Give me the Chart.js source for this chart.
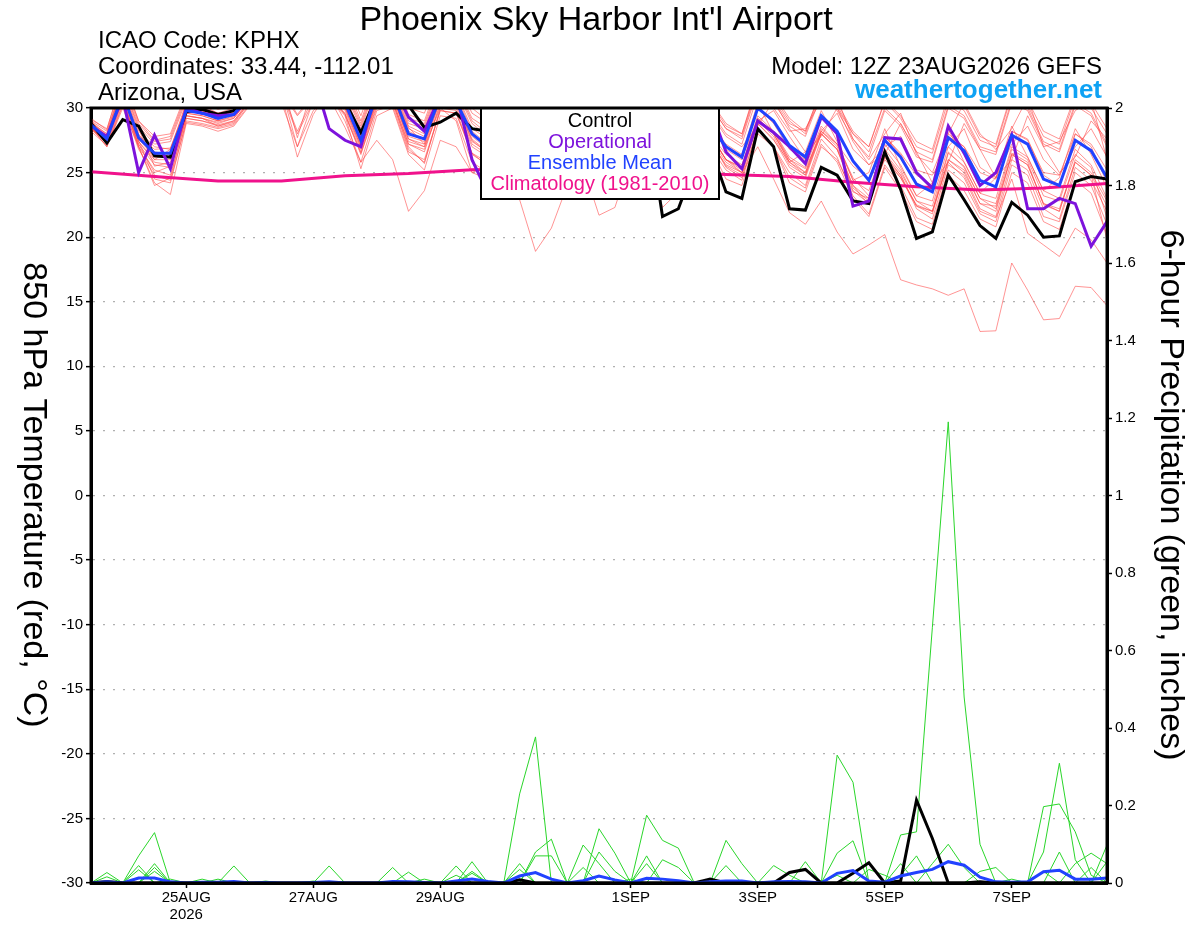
<!DOCTYPE html>
<html>
<head>
<meta charset="utf-8">
<title>Phoenix Sky Harbor Int'l Airport - GEFS 850 hPa Temperature</title>
<script src="https://cdn.jsdelivr.net/npm/chart.js@4.4.1/dist/chart.umd.min.js"></script>
<style>
  html, body { margin: 0; padding: 0; background: #fff; }
  #wrap { width: 1200px; height: 927px; }
</style>
</head>
<body>
<div id="wrap"><canvas id="chart" width="1200" height="927"></canvas></div>
<script>
// forecast hours from 12Z 23AUG2026, every 6 h out to 384 h
const hours = [];
for (let h = 0; h <= 384; h += 6) hours.push(h);
const climoHours = [];
for (let h = 0; h <= 384; h += 24) climoHours.push(h);

const tickHours = [36, 84, 132, 204, 252, 300, 348];
const tickLabels = [["25AUG", "2026"], "27AUG", "29AUG", "1SEP", "3SEP", "5SEP", "7SEP"];

// 850 hPa temperature (C)
const controlT = [28.8, 27.3,29.1,28.6,26.3, 26.2,29.7,29.9,29.5, 29.8,31.2,31.8,32.2, 31.0,31.5,31.6,30.5, 28.1,30.9,31.5,30.2, 28.5,28.9,29.6,28.4, 28.2,30.5,30.2,28.0, 27.5,30.5,30.4,28.5, 27.8,29.5,29.8,21.6, 22.2,25.5,27.0,23.5, 23.0,28.4,27.0,22.2, 22.1,25.4,24.8,22.8, 22.6,26.6,23.7,19.9, 20.4,24.8,22.9,20.9, 19.9,22.7,21.7,20.0, 20.1,24.3,24.7,24.5];
const operationalT = [28.6, 27.8,30.8,25.0,27.9, 25.3,30.0,29.6,29.4, 29.5,30.8,31.5,32.2, 31.4,32.5,28.4,27.5, 27.0,31.5,31.8,29.3, 28.2,31.0,31.2,26.0, 23.4,29.5,30.0,27.8, 26.5,29.8,30.2,27.2, 26.8,29.0,29.2,26.8, 26.0,29.0,30.0,26.6, 25.3,29.0,28.1,27.0, 25.7,29.3,28.0,22.4, 22.8,27.7,27.6,25.0, 23.8,28.6,26.5,24.0, 25.0,27.9,22.2,22.2, 23.0,22.6,19.3,21.2];
const meanT = [28.7, 27.6,31.1,27.7,26.5, 26.5,29.8,29.6,29.2, 29.5,31.0,31.6,32.0, 31.2,31.6,31.8,30.4, 27.5,31.0,31.2,28.0, 27.6,30.9,30.5,28.0, 27.0,30.0,30.5,28.2, 27.6,30.0,30.3,28.0, 27.5,29.6,29.8,27.4, 26.9,29.4,28.6,27.0, 26.2,30.0,29.0,27.1, 26.2,29.4,28.2,25.9, 24.4,27.5,26.2,24.1, 23.5,27.7,26.7,24.4, 23.9,27.9,27.2,24.5, 24.0,27.5,26.7,24.6];
const climoT = [25.07, 24.7, 24.35, 24.35, 24.75, 24.92, 25.22, 25.3, 25.25, 25.05, 24.85, 24.7, 24.25, 23.9, 23.65, 23.8, 24.15];

const r01 = [28.9, 27.4,31.5,28.0,26.0, 26.8,30.2,29.8,29.0, 29.9,31.4,32.0,32.5, 31.0,31.9,32.3,30.0, 27.9,31.4,31.6,28.5, 27.2,31.3,30.5,27.5, 26.5,30.4,30.9,28.6, 27.0,30.5,30.0,27.5, 27.0,29.2,29.5,26.8, 26.2,28.8,28.0,26.0, 25.0,27.0,24.5,21.9, 21.0,22.8,20.4,18.7, 19.4,20.2,16.7,16.3, 16.0,15.5,16.0,12.7, 12.75,18.0,15.9,13.6, 13.7,16.2,16.1,14.7];
const r02 = [28.4, 27.9,30.6,27.2,25.0, 25.5,29.4,29.2,28.6, 29.0,30.6,31.2,31.5, 29.5,31.0,31.2,29.8, 26.8,30.5,30.6,27.2, 26.6,30.4,30.2,27.2, 26.4,29.5,29.8,27.5, 27.1,29.5,29.7,27.2, 26.8,29.0,29.0,26.5, 26.0,28.8,28.0,26.0, 25.2,29.0,28.2,26.0, 25.3,28.0,26.8,24.0, 23.0,26.0,24.6,22.5, 22.0,25.8,24.6,22.0, 21.5,24.5,20.3,19.4, 18.5,20.7,19.8,18.0];
const r03 = [29.0, 27.8,31.8,28.4,25.5, 25.8,30.5,30.2,29.6, 30.0,31.8,32.2,32.6, 30.5,31.2,30.8,28.5, 25.8,27.5,26.0,22.0, 23.6,27.5,27.0,25.0, 24.5,25.0,22.9,18.9, 20.7,24.0,26.0,25.5, 24.5,27.5,28.0,25.8, 25.5,28.5,27.5,25.5, 24.8,28.8,27.5,25.8, 25.0,28.2,27.2,25.5, 24.5,27.8,26.5,24.8, 24.0,27.8,27.0,25.0, 24.5,28.2,27.5,25.0, 24.8,28.0,27.2,25.2];
const r04 = [28.5, 27.0,30.2,27.5,24.5, 24.2,29.0,28.8,28.5, 28.8,30.5,31.0,31.2, 28.0,30.5,31.0,29.5, 26.5,30.0,30.5,26.8, 25.8,29.8,29.6,26.5, 25.5,28.5,29.0,26.0, 25.0,27.0,25.5,21.7, 22.3,26.0,27.0,22.3, 23.5,27.5,27.0,24.5, 24.0,28.0,27.0,24.2, 23.5,27.0,26.0,23.5, 23.0,26.5,25.0,22.8, 22.0,26.5,25.5,23.0, 22.2,26.5,25.8,22.5, 22.0,26.0,25.0,22.8];
const r05 = [29.2, 28.3,32.5,29.0,27.5, 27.8,31.0,30.8,30.2, 30.6,32.4,33.0,33.4, 32.8,33.0,33.2,32.0, 29.0,32.5,32.8,29.5, 29.0,32.4,32.2,29.6, 28.8,31.6,32.0,30.0, 29.2,31.8,32.0,29.6, 29.0,31.2,31.4,29.0, 28.5,31.0,30.5,28.6, 28.0,31.8,30.8,29.0, 28.0,31.2,30.0,28.0, 27.0,30.5,29.2,27.0, 26.5,30.6,29.8,27.5, 27.0,31.0,30.2,27.8, 27.2,30.8,30.0,28.0];
const r06 = [28.6, 27.2,30.5,27.0,25.2, 24.8,29.2,29.0,28.6, 28.9,30.5,31.0,31.4, 27.0,30.6,31.0,29.5, 26.4,30.2,30.4,27.0, 25.7,30.0,29.8,26.5, 25.8,29.0,29.4,27.0, 26.5,29.0,29.2,26.8, 26.2,28.5,28.6,26.0, 25.6,28.4,27.6,25.8, 25.0,29.0,27.8,25.6, 24.8,28.2,27.0,24.0, 22.5,26.2,24.8,22.4, 21.8,26.0,25.2,22.6, 22.0,26.4,25.6,22.6, 22.0,25.8,24.8,22.4];
const r07 = [28.8, 28.0,31.6,28.2,27.0, 26.8,30.4,30.0,29.6, 29.8,31.5,32.2,32.6, 32.0,32.4,32.5,31.2, 28.4,31.8,32.0,28.8, 28.4,31.6,31.4,28.8, 27.8,30.8,31.2,29.0, 28.4,30.8,31.0,28.8, 28.2,30.4,30.6,28.2, 27.6,30.2,29.6,27.8, 27.0,28.6,30.6,28.4, 26.6,27.8,30.0,27.4, 25.6,26.4,28.8,26.6, 24.2,25.8,28.8,26.8, 24.6,26.0,29.4,27.0, 25.0,26.2,29.0,27.6];
const r08 = [28.3, 27.5,30.9,27.4,26.0, 26.0,29.6,29.4,29.0, 29.3,30.8,31.2,31.0, 26.2,29.5,31.4,30.0, 27.0,30.6,30.8,27.6, 27.0,30.6,30.4,27.6, 26.6,29.6,30.0,27.8, 27.2,29.6,29.8,27.6, 27.0,29.0,29.4,26.8, 26.4,29.0,28.0,26.4, 25.6,29.4,28.2,26.2, 25.4,28.6,27.2,24.6, 23.2,26.8,25.2,22.8, 22.4,26.6,25.4,23.0, 22.6,26.8,26.0,23.2, 22.8,26.4,25.4,21.5];
const r09 = [28.5, 27.0,30.0,27.0,24.2, 23.3,28.8,28.6,28.2, 28.6,30.2,30.6,30.4, 27.0,29.8,30.8,29.4, 25.3,29.4,30.0,26.4, 25.2,29.4,29.2,25.8, 25.0,28.6,29.0,26.4, 25.8,28.4,28.6,26.2, 25.8,28.2,28.4,25.6, 25.0,28.0,27.0,25.2, 24.4,28.4,27.0,25.0, 24.0,27.6,26.2,23.2, 21.8,25.6,24.0,21.5, 21.0,25.2,24.2,21.8, 21.2,25.6,24.8,21.6, 21.2,25.0,24.0,21.0];
const r10 = [28.7, 27.7,31.2,27.9,26.8, 26.9,30.0,29.7,29.3, 29.6,31.2,31.8,32.2, 27.7,31.8,32.0,30.6, 27.8,31.2,31.4,28.4, 27.8,31.0,31.0,28.2, 27.2,30.2,30.6,28.4, 27.8,30.2,30.4,28.2, 27.6,29.8,30.0,27.6, 27.0,29.6,28.8,27.2, 26.4,30.4,28.0,25.8, 26.6,29.8,27.4,24.4, 25.0,28.4,25.4,23.2, 24.2,28.4,25.8,23.4, 24.6,28.6,26.2,23.6, 24.6,28.4,26.4,23.8];
const r11 = [28.8, 27.8,31.4,27.8,26.6, 26.4,30.0,29.8,29.5, 29.8,31.4,32.0,32.4, 31.6,32.0,32.2,31.0, 28.0,31.5,31.8,28.6, 28.0,31.4,31.2,28.4, 27.6,30.6,31.0,28.8, 28.2,30.8,31.0,28.8, 28.4,30.6,30.8,28.6, 28.0,30.8,30.2,28.4, 27.8,31.6,30.6,28.8, 28.2,31.4,30.4,28.2, 27.0,30.6,29.4,27.4, 26.8,31.0,30.2,27.8, 27.2,31.2,30.6,28.2, 27.6,31.0,30.4,28.4];
const r12 = [28.2, 27.1,30.3,26.8,24.8, 24.4,28.9,28.7,28.4, 28.7,30.3,30.9,31.2, 29.4,30.8,31.0,29.6, 26.6,30.4,30.6,27.2, 26.8,30.2,30.0,27.0, 26.2,29.2,29.6,27.4, 26.8,29.2,29.4,27.2, 26.6,28.8,29.0,26.4, 25.8,28.6,27.8,26.0, 25.4,29.2,28.0,26.0, 25.0,28.4,27.2,24.4, 23.6,27.2,25.6,23.2, 22.8,27.0,25.8,23.4, 23.0,27.0,26.2,23.6, 23.0,26.8,25.6,23.0];
const r13 = [29.0, 28.2,31.8,28.6,27.2, 27.4,30.6,30.4,29.9, 30.2,31.8,32.4,32.8, 32.2,32.6,32.8,31.4, 28.6,32.0,32.2,29.0, 28.6,31.8,31.6,29.0, 28.0,31.0,31.4,29.2, 28.6,31.0,31.2,29.0, 28.4,30.6,30.8,28.4, 27.8,30.4,29.8,28.0, 27.2,31.0,30.0,28.2, 28.4,30.6,30.8,27.6, 26.0,28.0,29.6,26.4, 25.0,28.0,30.4,28.0, 26.8,28.4,30.8,27.0, 27.4,29.8,30.6,26.0];
const r14 = [28.6, 27.5,31.0,27.6,26.2, 26.2,29.6,29.4,29.0, 29.4,30.9,31.4,31.8, 30.8,31.4,31.6,30.2, 27.2,30.8,31.0,27.8, 27.4,30.8,30.6,27.8, 26.8,29.8,30.2,28.0, 27.4,29.8,30.0,27.6, 27.2,29.2,29.4,26.8, 26.2,28.6,27.6,25.4, 24.6,28.4,27.0,24.6, 23.8,27.2,25.8,23.0, 21.6,25.4,23.6,21.2, 20.6,24.8,23.6,21.4, 20.8,25.0,24.2,21.2, 20.6,24.4,23.4,20.2];
const r15 = [28.9, 28.0,32.0,28.8,27.4, 27.6,30.8,30.6,30.0, 30.4,32.0,32.6,33.0, 32.4,32.8,33.0,31.6, 28.8,32.2,32.4,29.2, 28.8,32.0,31.8,29.2, 28.4,31.2,31.6,29.4, 28.8,31.2,31.4,29.2, 28.6,30.8,31.0,28.8, 28.2,30.8,30.2,28.4, 27.6,31.4,30.4,28.6, 27.8,31.0,29.8,27.6, 26.2,29.8,28.6,26.2, 25.8,30.0,29.2,26.8, 26.4,30.4,29.8,27.2, 26.6,30.2,29.4,27.0];
const r16 = [28.4, 27.3,30.6,27.2,25.6, 25.4,29.2,29.0,28.7, 29.0,30.6,31.2,31.4, 28.2,30.8,31.2,29.0, 25.8,29.8,30.2,26.6, 26.0,29.8,29.6,26.4, 25.6,28.8,29.2,26.8, 26.2,28.8,29.0,26.4, 26.0,28.4,28.6,25.8, 25.4,28.2,27.4,25.6, 25.0,28.8,27.6,25.4, 24.6,28.0,26.8,23.8, 22.8,26.4,24.8,22.2, 21.4,25.6,24.8,22.2, 21.6,26.0,25.2,22.2, 21.4,25.4,24.4,22.0];
const r17 = [28.7, 27.6,31.2,27.6,26.4, 26.6,29.9,29.7,29.3, 29.7,31.2,31.8,32.2, 31.4,31.8,32.0,30.6, 27.6,31.2,31.4,28.2, 27.6,31.0,30.8,28.0, 27.0,30.2,30.6,28.4, 27.8,30.2,30.4,28.0, 27.4,29.8,30.0,27.6, 27.0,29.6,28.8,27.0, 26.2,29.0,29.8,27.8, 26.0,28.2,29.6,26.8, 25.6,27.0,27.8,25.2, 24.8,27.0,28.4,25.4, 24.6,27.2,28.6,26.0, 24.8,27.0,28.4,26.2];
const r18 = [28.5, 27.4,30.8,27.0,24.0, 24.6,29.4,29.2,28.8, 29.2,30.8,31.4,31.8, 31.0,31.4,31.6,30.0, 27.0,30.6,31.0,27.4, 27.0,30.0,29.0,25.0, 25.5,29.0,29.8,27.4, 26.8,29.6,29.8,27.4, 27.0,29.4,29.6,27.2, 26.6,29.4,28.6,26.8, 26.0,30.0,28.8,26.8, 26.0,29.4,28.2,25.8, 24.4,27.8,26.4,24.2, 23.6,28.0,27.0,24.4, 23.8,28.2,27.6,24.8, 24.0,28.0,27.0,24.2];
const r19 = [29.1, 28.4,32.2,29.0,27.8, 28.0,31.2,31.0,30.4, 30.8,32.6,33.2,33.6, 33.0,33.2,33.4,32.2, 29.4,32.8,33.0,30.0, 29.6,32.8,32.6,30.0, 29.0,32.0,32.4,30.2, 29.6,32.0,32.2,29.8, 29.2,31.4,31.6,29.2, 28.6,31.2,30.6,28.8, 28.0,32.0,31.0,29.2, 28.2,31.4,30.2,28.0, 26.6,30.0,28.8,26.6, 26.0,30.2,29.4,27.0, 26.6,30.6,30.0,27.4, 26.8,30.4,29.6,27.2];
const r20 = [28.6, 27.6,31.0,27.4,25.8, 25.6,29.4,29.2,28.9, 29.2,30.8,31.4,31.6, 30.0,31.2,31.4,30.2, 27.2,30.8,31.0,27.6, 27.2,30.6,30.4,27.4, 26.6,29.6,30.0,27.6, 27.0,29.6,29.8,27.4, 26.8,29.0,29.2,26.6, 26.0,28.8,28.0,26.0, 25.4,29.2,28.0,25.8, 24.8,28.0,26.8,23.6, 22.6,26.2,24.6,22.4, 22.0,26.0,25.0,22.6, 22.4,26.4,25.6,22.6, 22.2,25.8,24.8,19.8];

// 6-hour precipitation (inches)
const controlP = [0, .004,0,0,0, 0,0,0,0, 0,0,0,0, 0,0,0,0, 0,0,0,0, 0,0,0,0, 0,0,.008,0, 0,0,0,0, 0,0,0,0, 0,0,.01,0, 0,0,0,.027, .035,0,0,.025, .052,0,.005,.214, .115,0,0,.003, 0,0,0,0, 0,0,0,0];
const meanP = [0, .003,0,.013,.013, .003,0,.002,.002, .004,0,.001,0, 0,.001,.003,0, 0,0,.004,.003, .001,0,.005,.01, .004,0,.018,.027, .01,0,.006,.018, .008,0,.012,.01, .006,0,.003,.005, .005,0,.003,.004, .003,0,.025,.032, .005,.002,.018,.027, .035,.055,.046,.015, .003,.002,.003,.029, .033,.01,.01,.013];

const g01 = [0, 0,0,0,.03, 0,0,0,0, 0,0,0,0, 0,0,0,0, 0,0,0,0, 0,0,0,0, 0,0,.23,.377, 0,0,0,0, 0,0,0,0, 0,0,0,0, 0,0,0,0, 0,0,.02,0, 0,0,0,0, 0,0,0,0, 0,0,0,0, 0,0,0,0];
const g02 = [0, 0,0,0,0, 0,0,0,0, 0,0,0,0, 0,0,0,0, 0,0,0,0, 0,0,0,0, 0,0,0,.08, .113,0,0,0, 0,0,.05,0, 0,0,0,0, 0,0,0,0, 0,0,0,0, 0,0,0,0, 0,0,0,0, 0,0,0,0, .08,0,0,0];
const g03 = [0, 0,0,.07,.13, 0,0,0,0, 0,0,0,0, 0,0,0,0, 0,0,0,0, 0,0,0,0, 0,0,0,0, 0,0,.098,.05, 0,0,0,0, 0,0,0,0, 0,0,0,0, 0,0,0,0, 0,0,0,0, 0,0,0,0, 0,0,0,0, 0,0,0,0];
const g04 = [0, 0,0,0,0, 0,0,0,0, 0,0,0,0, 0,0,0,0, 0,0,0,0, 0,0,0,0, 0,0,0,0, 0,0,0,.14, .077,0,0,0, 0,0,0,.045, 0,0,0,0, 0,0,0,0, 0,0,0,0, 0,0,0,0, 0,0,0,.03, 0,0,0,0];
const g05 = [0, 0,0,.045,0, 0,0,0,0, 0,0,0,0, 0,0,0,0, 0,0,0,0, 0,0,0,0, 0,0,0,0, 0,0,0,0, 0,0,.175,.11, .09,0,0,0, 0,0,0,0, 0,0,0,0, 0,0,0,0, 0,0,0,0, 0,0,0,0, 0,0,0,0];
const g06 = [0, 0,0,0,0, 0,0,0,0, 0,0,0,0, 0,0,0,0, 0,0,0,0, 0,0,0,.055, 0,0,0,0, 0,0,0,0, 0,0,0,0, 0,0,0,.11, .05,0,0,0, 0,0,0,0, 0,0,0,0, 0,0,0,0, 0,0,0,0, 0,0,.04,0];
const g07 = [0, 0,0,0,0, 0,0,0,0, .044,0,0,0, 0,0,0,0, 0,0,0,0, 0,0,0,0, 0,0,0,0, 0,0,0,0, 0,0,0,0, 0,0,0,0, 0,0,0,0, 0,0,.33,.26, 0,0,0,0, 0,0,0,0, 0,0,0,0, 0,0,0,0];
const g08 = [0, 0,0,0,0, 0,0,0,0, 0,0,0,0, 0,0,.044,0, 0,0,0,0, 0,0,0,0, 0,0,0,0, 0,0,0,0, 0,0,0,0, 0,0,0,0, 0,0,0,0, 0,0,0,0, 0,0,.124,.132, .66,1.19,.48,.1, 0,0,0,0, 0,0,0,0];
const g09 = [0, 0,0,0,0, 0,0,0,0, 0,0,0,0, 0,0,0,0, 0,0,0,0, 0,0,.044,0, 0,0,0,0, 0,0,0,0, 0,0,0,0, 0,0,0,0, 0,0,0,0, 0,0,.077,.109, 0,0,0,0, 0,0,0,0, 0,0,0,0, 0,0,0,.098];
const g10 = [0, 0,0,0,0, 0,0,0,0, 0,0,0,0, 0,0,0,0, 0,0,.04,0, 0,0,0,0, 0,0,0,0, 0,0,0,0, 0,0,0,0, 0,0,0,0, 0,0,0,0, 0,0,0,0, 0,0,0,0, 0,0,0,0, 0,0,0,.08, .309,.06,0,0];
const g11 = [0, .027,0,0,0, 0,0,0,0, 0,0,0,0, 0,0,0,0, 0,0,0,0, 0,0,0,0, 0,0,0,0, 0,0,0,0, 0,0,0,0, 0,0,0,0, 0,0,0,0, 0,0,0,0, 0,0,0,0, 0,0,0,0, 0,0,0,.197, .204,.132,.02,0];
const g12 = [0, 0,0,0,0, 0,0,0,0, 0,0,0,0, 0,0,0,0, 0,0,0,0, 0,0,0,.03, 0,0,.05,0, 0,0,0,0, 0,0,0,0, 0,0,0,0, 0,0,0,0, 0,0,0,0, 0,0,0,0, .05,.1,.04,0, 0,0,0,0, 0,0,0,0];
const g13 = [0, 0,0,0,0, 0,0,0,0, 0,0,0,0, 0,0,0,0, 0,0,0,.028, 0,0,0,0, 0,0,0,0, 0,0,0,0, 0,0,0,0, 0,0,0,0, 0,0,.045,.02, 0,0,0,0, 0,0,0,0, 0,0,0,0, 0,0,0,0, 0,.05,.077,.05];
const g14 = [0, 0,0,0,.05, 0,0,0,0, 0,0,0,0, 0,0,0,0, 0,0,0,0, 0,0,0,0, 0,0,0,0, 0,0,0,0, 0,0,0,.06, .04,0,0,0, 0,0,0,0, .055,0,0,0, 0,0,0,0, 0,0,0,0, 0,0,0,0, 0,0,0,0];
const g15 = [0, 0,0,.034,0, 0,0,0,0, 0,0,0,0, 0,0,0,0, 0,0,0,0, 0,0,0,0, 0,0,0,.07, .07,0,0,0, 0,0,0,0, 0,0,0,0, 0,0,0,0, 0,0,0,0, 0,0,.05,0, 0,0,0,0, 0,0,0,0, 0,0,0,0];
const g16 = [0, .016,0,0,0, 0,0,0,0, 0,0,0,0, 0,0,0,0, 0,0,0,0, 0,0,0,0, 0,0,0,0, 0,0,0,.08, .03,0,.07,0, 0,0,0,0, 0,0,0,0, 0,0,0,0, 0,0,0,0, 0,0,0,0, 0,0,0,0, 0,0,0,0];
const g17 = [0, 0,0,0,0, 0,0,0,0, 0,0,0,0, 0,0,0,0, 0,0,0,0, 0,0,0,.025, 0,0,0,0, 0,0,0,0, 0,0,0,0, 0,0,0,0, 0,0,0,0, 0,0,0,0, .035,.02,0,0, 0,0,0,.03, .04,0,0,0, 0,0,0,0];
const g18 = [0, 0,0,0,.04, 0,0,.01,0, 0,0,0,0, 0,0,0,0, 0,0,0,0, 0,0,.02,0, 0,0,0,0, 0,0,.04,0, 0,0,0,0, 0,0,0,0, 0,0,0,0, 0,0,0,0, 0,0,0,0, 0,0,0,0, 0,0,0,0, 0,0,0,0];
const g19 = [0, 0,0,0,0, 0,0,0,.01, 0,0,0,0, 0,0,0,0, 0,0,0,0, 0,0,0,0, 0,0,.035,0, 0,0,0,0, 0,0,0,0, 0,0,0,0, 0,0,0,0, 0,0,0,0, 0,0,.02,.07, 0,0,0,0, 0,0,0,0, 0,0,0,.055];
const g20 = [0, 0,0,0,0, .01,0,0,0, 0,0,.005,0, 0,.005,0,0, 0,0,0,0, .01,0,0,0, .005,0,0,0, 0,0,0,0, 0,.01,0,0, 0,0,0,0, 0,0,0,0, 0,0,0,0, 0,0,0,0, 0,0,0,0, 0,.01,0,0, 0,0,0,0];

const redMembers = [r01, r02, r03, r04, r05, r06, r07, r08, r09, r10, r11, r12, r13, r14, r15, r16, r17, r18, r19, r20];
const greenMembers = [g01, g02, g03, g04, g05, g06, g07, g08, g09, g10, g11, g12, g13, g14, g15, g16, g17, g18, g19, g20];

const legendItems = [
  { text: "Control", color: "#000000" },
  { text: "Operational", color: "#7d12dc" },
  { text: "Ensemble Mean", color: "#2142ff" },
  { text: "Climatology (1981-2010)", color: "#f0128c" },
];

const FONT = "'Liberation Sans', Arial, Helvetica, sans-serif";
const RED = "rgba(255, 70, 70, 0.58)";
const GREEN = "#2ad62a";

function line(values, color, width, axis, order, xs = hours) {
  return {
    data: values.map((v, i) => ({ x: xs[i], y: v })),
    borderColor: color,
    borderWidth: width,
    yAxisID: axis,
    order: order,
    pointRadius: 0,
    tension: 0,
    fill: false,
    clip: 0,
  };
}

const datasets = [];
redMembers.forEach((m) => datasets.push(line(m, RED, 1, "y", 9)));
greenMembers.forEach((m) => datasets.push(line(m, GREEN, 1, "y1", 9)));
datasets.push(line(climoT, legendItems[3].color, 3, "y", 6, climoHours));
datasets.push(line(controlT, legendItems[0].color, 3, "y", 5));
datasets.push(line(operationalT, legendItems[1].color, 3, "y", 4));
datasets.push(line(meanT, legendItems[2].color, 3, "y", 3));
datasets.push(line(controlP, legendItems[0].color, 3, "y1", 5));
datasets.push(line(meanP, legendItems[2].color, 3, "y1", 3));

const decorations = {
  id: "decorations",
  beforeDraw(chart) {
    const ctx = chart.ctx;
    ctx.save();
    ctx.fillStyle = "#fff";
    ctx.fillRect(0, 0, chart.width, chart.height);
    ctx.restore();
  },
  afterDatasetsDraw(chart) {
    const { ctx, chartArea: a } = chart;
    ctx.save();
    // legend box
    const bx = 481, by = a.top, bw = 238, bh = 91;
    ctx.fillStyle = "#fff";
    ctx.fillRect(bx, by, bw, bh);
    ctx.lineWidth = 2;
    ctx.strokeStyle = "#000";
    ctx.strokeRect(bx, by, bw, bh);
    ctx.font = `20px ${FONT}`;
    ctx.textAlign = "center";
    ctx.textBaseline = "middle";
    legendItems.forEach((item, i) => {
      ctx.fillStyle = item.color;
      ctx.fillText(item.text, bx + bw / 2, by + 13 + i * 21.3);
    });
    // plot frame
    ctx.lineWidth = 3;
    ctx.strokeRect(a.left, a.top, a.right - a.left, a.bottom - a.top);
    ctx.restore();
  },
  afterDraw(chart) {
    const ctx = chart.ctx;
    ctx.save();
    ctx.fillStyle = "#000";
    ctx.textBaseline = "alphabetic";
    ctx.textAlign = "center";
    ctx.font = `34px ${FONT}`;
    ctx.fillText("Phoenix Sky Harbor Int'l Airport", 596, 30);

    ctx.textAlign = "left";
    ctx.font = `24px ${FONT}`;
    ctx.fillText("ICAO Code: KPHX", 98, 48);
    ctx.fillText("Coordinates: 33.44, -112.01", 98, 74);
    ctx.fillText("Arizona, USA", 98, 100);

    ctx.textAlign = "right";
    ctx.fillText("Model: 12Z 23AUG2026 GEFS", 1102, 74);
    ctx.font = `bold 26px ${FONT}`;
    ctx.fillStyle = "#0ea2f4";
    ctx.fillText("weathertogether.net", 1102, 98);

    // axis titles, both read top to bottom
    ctx.fillStyle = "#000";
    ctx.font = `34px ${FONT}`;
    ctx.textAlign = "center";
    ctx.textBaseline = "middle";
    ctx.save();
    ctx.translate(33, 495);
    ctx.rotate(Math.PI / 2);
    ctx.fillText("850 hPa Temperature (red, \u00B0C)", 0, 0);
    ctx.restore();
    ctx.save();
    ctx.translate(1170, 495);
    ctx.rotate(Math.PI / 2);
    ctx.fillText("6-hour Precipitation (green, inches)", 0, 0);
    ctx.restore();
    ctx.restore();
  },
};

const tickFont = { family: FONT, size: 15 };

new Chart(document.getElementById("chart"), {
  type: "line",
  data: { datasets },
  options: {
    responsive: false,
    devicePixelRatio: 1,
    animation: false,
    layout: { padding: { top: 108, left: 0, right: 0, bottom: 0 } },
    plugins: {
      legend: { display: false },
      tooltip: { enabled: false },
      title: { display: false },
    },
    scales: {
      x: {
        type: "linear",
        min: 0,
        max: 384,
        afterFit: (s) => { s.height = 44; },
        afterBuildTicks: (s) => { s.ticks = tickHours.map((v) => ({ value: v })); },
        ticks: {
          autoSkip: false,
          maxRotation: 0,
          padding: 2,
          color: "#000",
          font: { family: FONT, size: 15, lineHeight: 1.1 },
          callback: (v) => tickLabels[tickHours.indexOf(v)],
        },
        grid: { drawOnChartArea: false, tickLength: 5, tickColor: "#000", tickWidth: 1.5 },
        border: { color: "#000", width: 3 },
      },
      y: {
        position: "left",
        min: -30,
        max: 30,
        afterFit: (s) => { s.width = 91; },
        ticks: { stepSize: 5, padding: 3, color: "#000", font: tickFont },
        grid: { color: "#b0b0b0", lineWidth: 1.3, tickLength: 5, tickColor: "#000", tickWidth: 1.5 },
        border: { color: "#000", width: 3, dash: [2, 8] },
      },
      y1: {
        position: "right",
        min: 0,
        max: 2,
        afterFit: (s) => { s.width = 93; },
        ticks: {
          stepSize: 0.2,
          padding: 3,
          color: "#000",
          font: tickFont,
          callback: (v) => String(Math.round(v * 10) / 10),
        },
        grid: { drawOnChartArea: false, tickLength: 5, tickColor: "#000", tickWidth: 1.5 },
        border: { color: "#000", width: 3 },
      },
    },
  },
  plugins: [decorations],
});
</script>
</body>
</html>
